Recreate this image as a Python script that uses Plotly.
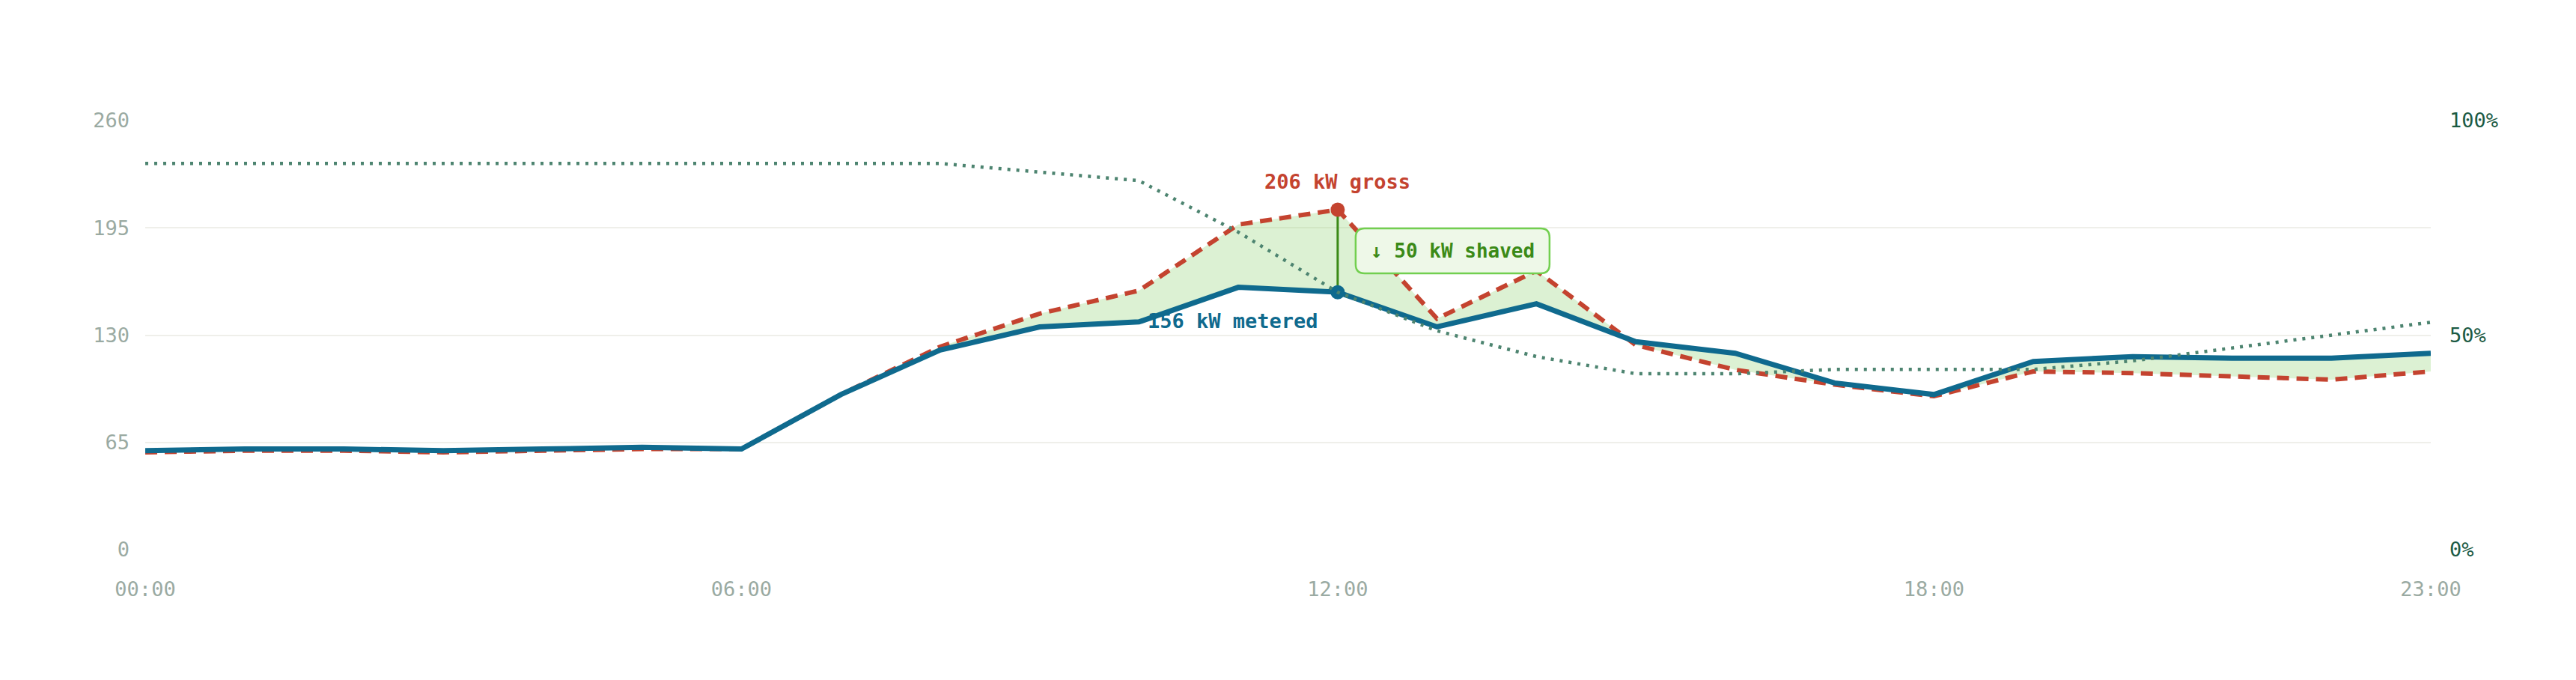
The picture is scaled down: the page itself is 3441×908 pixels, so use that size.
import plotly.graph_objects as go

# hourly data (kW) and battery state of charge (%)
hours = list(range(24))
hour_ticks = [0, 6, 12, 18, 23]
hour_labels = ["00:00", "06:00", "12:00", "18:00", "23:00"]

gross_kw = [59, 60, 60, 59, 60, 61, 61, 94, 123, 143, 157, 197, 206, 140, 169,
            124, 109, 100, 93, 108, 107, 105, 103, 108]
metered_kw = [60, 61, 61, 60, 61, 62, 61, 94, 121, 135, 138, 159, 156, 135, 149,
              126, 119, 101, 94, 114, 117, 116, 116, 119]
soc_pct = [90, 90, 90, 90, 90, 90, 90, 90, 90, 88, 86, 74, 60, 51, 45,
           41, 41, 42, 42, 42, 44, 47, 50, 53]

kw_ticks = [0, 65, 130, 195, 260]
soc_ticks = [0, 50, 100]
soc_labels = [f"{v}%" for v in soc_ticks]

BLUE = "#0f6a8e"
RED = "#c4432f"
SOC_GREEN = "#4d8470"
SHAVE_GREEN = "#3b8a17"
GREY = "#9aaaa2"
FONT = "DejaVu Sans Mono"

pk = max(range(len(gross_kw)), key=lambda i: gross_kw[i])
shaved = gross_kw[pk] - metered_kw[pk]
mid_kw = (gross_kw[pk] + metered_kw[pk]) / 2

fig = go.Figure()

# shaded band between gross and metered
fig.add_trace(go.Scatter(x=hours, y=metered_kw, mode="lines",
                         line=dict(width=0, color=BLUE), hoverinfo="skip",
                         showlegend=False))
fig.add_trace(go.Scatter(x=hours, y=gross_kw, mode="lines", fill="tonexty",
                         fillcolor="rgba(140, 210, 110, 0.30)",
                         line=dict(width=0, color=RED), hoverinfo="skip",
                         showlegend=False))

# gross demand (dashed) and metered demand (solid)
fig.add_trace(go.Scatter(x=hours, y=gross_kw, mode="lines", name="gross",
                         line=dict(color=RED, width=6, dash="16px,10px")))
fig.add_trace(go.Scatter(x=hours, y=metered_kw, mode="lines", name="metered",
                         line=dict(color=BLUE, width=7)))

# peak connector + markers
fig.add_trace(go.Scatter(x=[hours[pk], hours[pk]], y=[metered_kw[pk], gross_kw[pk]],
                         mode="lines", line=dict(color=SHAVE_GREEN, width=3),
                         hoverinfo="skip", showlegend=False))
fig.add_trace(go.Scatter(x=[hours[pk]], y=[gross_kw[pk]], mode="markers",
                         marker=dict(color=RED, size=19), showlegend=False))
fig.add_trace(go.Scatter(x=[hours[pk]], y=[metered_kw[pk]], mode="markers",
                         marker=dict(color=BLUE, size=19), showlegend=False))

# state of charge on the right axis
fig.add_trace(go.Scatter(x=hours, y=soc_pct, mode="lines", name="SOC", yaxis="y2",
                         line=dict(color=SOC_GREEN, width=4.5, dash="4px,8px")))

fig.add_annotation(x=hours[pk], y=gross_kw[pk], text=f"<b>{gross_kw[pk]} kW gross</b>",
                   showarrow=False, yanchor="bottom", yshift=20,
                   font=dict(family=FONT, size=27, color=RED))
fig.add_annotation(x=hours[pk], y=metered_kw[pk], text=f"<b>{metered_kw[pk]} kW metered</b>",
                   showarrow=False, xanchor="right", yanchor="middle",
                   xshift=-24, yshift=-38,
                   font=dict(family=FONT, size=27, color=BLUE))

# rounded callout box next to the peak (pixel offsets from the anchor)
bx0, bx1, by0, by1, rad = 24, 283, -30, 30, 12
box_path = (f"M {bx0 + rad},{by0} L {bx1 - rad},{by0} Q {bx1},{by0} {bx1},{by0 + rad} "
            f"L {bx1},{by1 - rad} Q {bx1},{by1} {bx1 - rad},{by1} "
            f"L {bx0 + rad},{by1} Q {bx0},{by1} {bx0},{by1 - rad} "
            f"L {bx0},{by0 + rad} Q {bx0},{by0} {bx0 + rad},{by0} Z")
fig.add_shape(type="path", path=box_path, layer="above",
              xref="x", yref="y", xsizemode="pixel", ysizemode="pixel",
              xanchor=hours[pk], yanchor=mid_kw,
              fillcolor="#eef8e8", line=dict(color="#72cf4f", width=2.5))
fig.add_annotation(x=hours[pk], y=mid_kw, text=f"<b>↓ {shaved} kW shaved</b>",
                   showarrow=False, xanchor="center", yanchor="middle",
                   xshift=(bx0 + bx1) / 2,
                   font=dict(family=FONT, size=26, color=SHAVE_GREEN))

# page body has an 8px margin, so the figure is shifted; margins compensate
fig.update_layout(
    width=3441, height=908,
    margin=dict(l=186, r=202, t=153, b=182),
    paper_bgcolor="white", plot_bgcolor="white",
    showlegend=False,
    font=dict(family=FONT, size=27, color=GREY),
    xaxis=dict(range=[0, 23], tickvals=hour_ticks, ticktext=hour_labels,
               showgrid=False, zeroline=False, showline=False, automargin=False,
               ticklabelstandoff=34, tickfont=dict(color=GREY, size=27)),
    yaxis=dict(range=[0, 260], tickvals=kw_ticks, showgrid=True,
               gridcolor="#efefea", gridwidth=2, zeroline=False, automargin=False,
               ticklabelstandoff=20, tickfont=dict(color=GREY, size=27)),
    yaxis2=dict(range=[0, 100], tickvals=soc_ticks, ticktext=soc_labels,
                overlaying="y", side="right", showgrid=False, zeroline=False,
                automargin=False, ticklabelstandoff=24,
                tickfont=dict(color="#1b5a44", size=27)),
)

fig.write_html("out.html")
